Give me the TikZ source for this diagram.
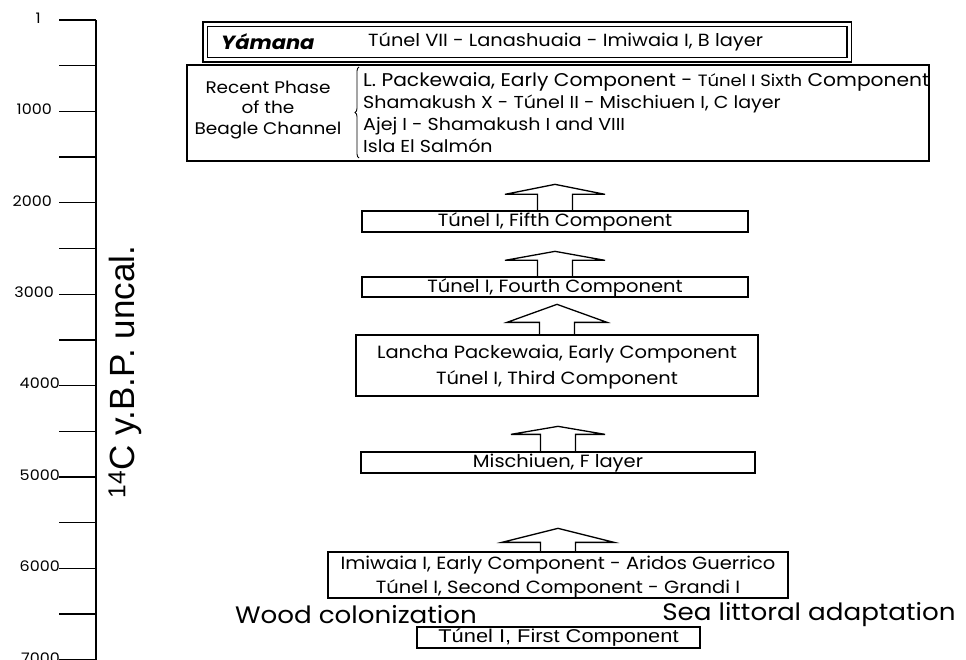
\documentclass[tikz,border=0pt]{standalone}
\usepackage{fontspec}
\setmainfont{Poppins}[FakeStretch=1.1]
\newfontfamily\axisfont{Liberation Sans}
\newfontfamily\widefont[FakeStretch=1.18]{Liberation Sans}
\usetikzlibrary{positioning,calc,decorations.pathreplacing}

\begin{document}
\begin{tikzpicture}[
  x=1pt, y=-1pt,
  every node/.style={inner sep=0pt},
  box/.style={draw, line width=1.3pt, align=center, font=\fontsize{17.7}{26}\selectfont},
  one/.style={box, text height=13.5pt, text depth=3pt},
  dbox/.style={draw, double, line width=1.5pt, double distance=3pt},
  txt/.style={font=\fontsize{17.3}{22}\selectfont, align=left},
  big/.style={font=\fontsize{23.8}{24}\selectfont},
  tick/.style={line width=1.4pt},
  arr/.style={line width=1.3pt},
  pics/uparr/.style args={#1/#2/#3}{code={
    \draw[arr] (-17.5,0) -- (-17.5,-#1) -- (-#3,-#1) -- (0,-#1-#2) -- (#3,-#1) -- (17.5,-#1) -- (17.5,0);
  }}
]
\useasboundingbox (0,0) rectangle (966,660);

% time axis
\draw[tick] (96,20) -- (96,660);
\foreach \i in {0,...,14}
  \draw[tick] (59,20+45.7*\i) -- (96,20+45.7*\i);
\foreach \i/\lab/\xx in {0/1/41, 2/1000/52, 4/2000/52, 6/3000/54, 8/4000/60, 10/5000/60, 12/6000/60, 14/7000/60}
  \node[anchor=east, font=\fontsize{14.5}{14.5}\selectfont] (t\lab) at (\xx,18+45.7*\i) {\lab};
\node[rotate=90, font=\axisfont\fontsize{35}{35}\selectfont] (ytitle) at (125,372) {\textsuperscript{14}C y.B.P. uncal.};

% phases
\node[dbox, minimum width=644pt, minimum height=35.5pt] (yamana) at (527,42) {};
\node[anchor=west, font=\fontsize{19.1}{19.1}\selectfont\bfseries\itshape] (yamname) at (221,42) {Yámana};
\node[anchor=west, font=\fontsize{17.6}{17.6}\selectfont] (yamsites) at (368,42) {Túnel VII - Lanashuaia - Imiwaia I, B layer};

\node[box, minimum width=742pt, minimum height=96pt] (recent) at (558,113) {};
\node[align=center, font=\fontsize{16.8}{20.5}\selectfont] (phase) at (268,110) {Recent Phase\\of the\\Beagle Channel};
\node[txt, anchor=west] (recsites) at (363,113) {{\fontsize{18.4}{22}\selectfont L. Packewaia, Early Component - {\fontsize{16.4}{16.4}\selectfont Túnel I Sixth} Component}\\
  Shamakush X - Túnel II - Mischiuen I, C layer\\
  Ajej I - Shamakush I and VIII\\
  Isla El Salmón};
\draw[line width=0.9pt, decorate, decoration={brace, amplitude=4pt}] (359,158) -- (359,67);

\node[one, minimum width=386pt, minimum height=21pt] (fifth) at (555,221.5) {Túnel I, Fifth Component};
\node[one, minimum width=386pt, minimum height=20pt] (fourth) at (555,287) {Túnel I, Fourth Component};
\node[box, minimum width=402pt, minimum height=61pt] (lancha) at (557,365.5) {};
\node[box, draw=none] (lanchatxt) at (557,367.5) {Lancha Packewaia, Early Component\\Túnel I, Third Component};
\node[one, minimum width=394pt, minimum height=21pt] (mischiuen) at (558,462.5) {Mischiuen, F layer};
\node[box, minimum width=460pt, minimum height=46pt] (imiwaia) at (558,575) {};
\node[box, draw=none, font=\fontsize{17.7}{24}\selectfont] (imiwaiatxt) at (558,577) {Imiwaia I, Early Component - Aridos Guerrico\\Túnel I, Second Component - Grandi I};
\node[one, minimum width=283pt, minimum height=21pt, font=\widefont\fontsize{18.5}{18.5}\selectfont] (first) at (558.5,637.5) {Túnel I, First Component};

\node[big] (wood) at (356,615) {Wood colonization};
\node[big] (sea) at (809,615) {Sea littoral adaptation};

% arrows
\pic at (fifth.north) {uparr=16/10/50};
\pic at (fourth.north) {uparr=16/9/50};
\pic at (lancha.north) {uparr=12/18/50};
\pic at (mischiuen.north) {uparr=17/8/47};
\pic at (imiwaia.north) {uparr=9/14/56};
\end{tikzpicture}
\end{document}
